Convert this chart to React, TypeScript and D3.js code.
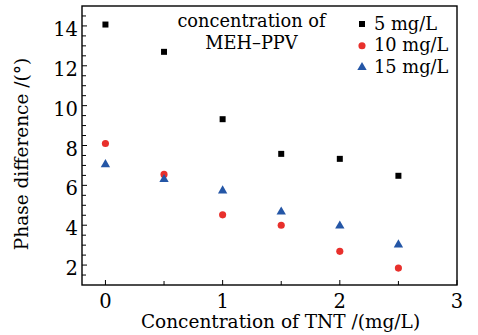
import React from "react";
import * as d3 from "d3";

const xValues = [0, 0.5, 1, 1.5, 2, 2.5];
const series5 = [14.07, 12.7, 9.32, 7.58, 7.33, 6.48];
const series10 = [8.1, 6.55, 4.52, 4.0, 2.69, 1.85];
const series15 = [7.05, 6.3, 5.73, 4.67, 3.97, 3.02];
const seriesNames = ["5 mg/L", "10 mg/L", "15 mg/L"];
const xTicks = [0, 1, 2, 3];
const yTicks = [2, 4, 6, 8, 10, 12, 14];

const W = 478, H = 335;
const M = { left: 82, right: 21, top: 6, bottom: 50 };
const FONT = "'DejaVu Serif', serif";

export default function App() {
  const x = d3.scaleLinear().domain([-0.2, 3]).range([M.left, W - M.right]);
  const y = d3.scaleLinear().domain([1, 15]).range([H - M.bottom, M.top]);
  const xMinor = d3.range(0, 3.01, 0.5);
  const yMinor = d3.range(1.5, 15, 0.5);
  const sq = d3.symbol().type(d3.symbolSquare).size(36)()!;
  const ci = d3.symbol().type(d3.symbolCircle).size(40)()!;
  const tr = d3.symbol().type(d3.symbolTriangle).size(38)()!;
  const series = [
    { vals: series5, color: "#000000", path: sq },
    { vals: series10, color: "#e8302c", path: ci },
    { vals: series15, color: "#2456a6", path: tr },
  ];
  const fs = 19.5;
  return (
    <svg width={W} height={H} style={{ position: "absolute", left: 0, top: 0, background: "#fff" }}>
      <rect x={M.left} y={M.top} width={W - M.left - M.right} height={H - M.top - M.bottom} fill="none" stroke="#000" strokeWidth={1.4} />
      {xMinor.map((t) => (
        <line key={"xm" + t} x1={x(t)} x2={x(t)} y1={y(1)} y2={y(1) - (Number.isInteger(t) ? 5 : 4)} stroke="#000" />
      ))}
      {yMinor.map((t) => (
        <line key={"ym" + t} x1={x(-0.2)} x2={x(-0.2) + (Number.isInteger(t) && t % 2 === 0 ? 5 : 4)} y1={y(t)} y2={y(t)} stroke="#000" />
      ))}
      {xTicks.map((t) => (
        <text key={"xt" + t} x={x(t)} y={H - M.bottom + 23} textAnchor="middle" fontFamily={FONT} fontSize={fs}>{t}</text>
      ))}
      {yTicks.map((t) => (
        <text key={"yt" + t} x={M.left - 4} y={y(t) + 10} textAnchor="end" fontFamily={FONT} fontSize={fs}>{t}</text>
      ))}
      <text x={(143 + 418) / 2} y={328} textAnchor="middle" fontFamily={FONT} fontSize={18.5}>Concentration of TNT /(mg/L)</text>
      <text transform={`translate(27.5, ${(60 + 248) / 2}) rotate(-90)`} textAnchor="middle" fontFamily={FONT} fontSize={18.5}>Phase difference /(°)</text>
      {series.map((s, i) =>
        s.vals.map((v, j) => (
          <path key={i + "-" + j} d={s.path} transform={`translate(${x(xValues[j])},${y(v)})`} fill={s.color} />
        ))
      )}
      <text x={251.5} y={27} textAnchor="middle" fontFamily={FONT} fontSize={17.8}>concentration of</text>
      <text x={251.5} y={48.5} textAnchor="middle" fontFamily={FONT} fontSize={17.8}>MEH–PPV</text>
      {series.map((s, i) => (
        <g key={"lg" + i}>
          <path d={s.path} transform={`translate(362,${24 + i * 21.7})`} fill={s.color} />
          <text x={374} y={29.5 + i * 21.9} fontFamily={FONT} fontSize={17.8}>{seriesNames[i]}</text>
        </g>
      ))}
    </svg>
  );
}
